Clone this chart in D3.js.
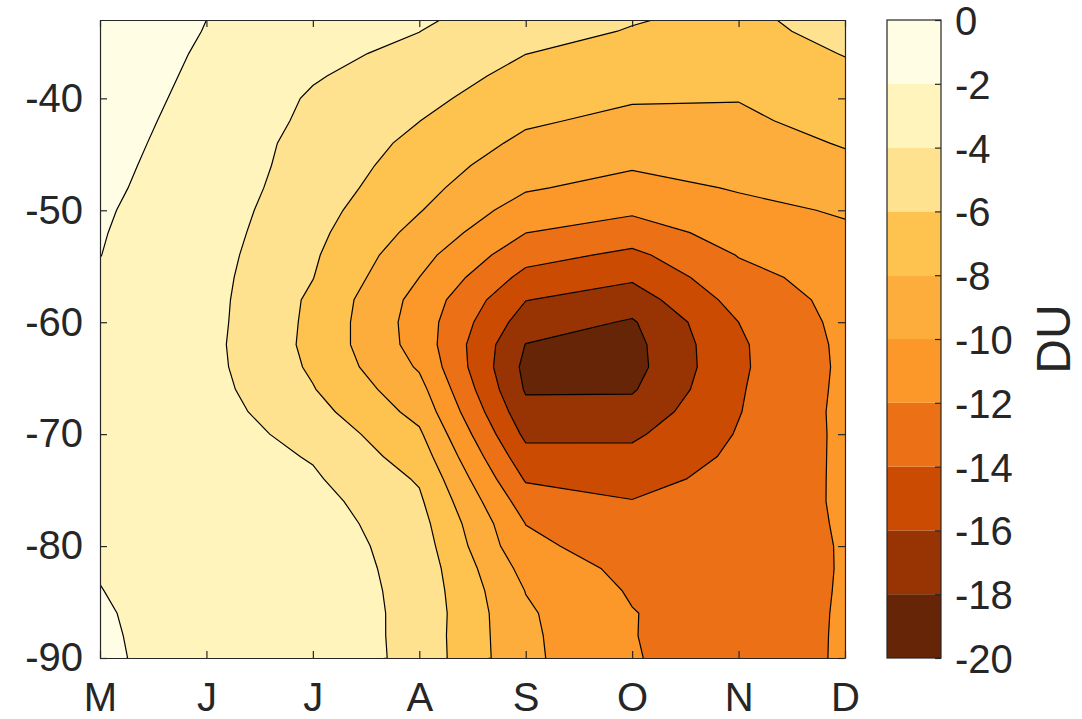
<!DOCTYPE html>
<html>
<head>
<meta charset="utf-8">
<script src="https://cdn.jsdelivr.net/npm/d3@7"></script>
<style>
body { margin: 0; background: #fff; }
text { font-family: "Liberation Sans", Arial, sans-serif; }
</style>
</head>
<body>
<script>
//month columns (x) and latitude rows (y), south to north
var months = ["M", "J", "J", "A", "S", "O", "N", "D"];
var lats = [-90, -88, -86, -84, -82, -80, -78, -76, -74, -72, -70, -68, -66, -64, -62,
            -60, -58, -56, -54, -52, -50, -48, -46, -44, -42, -40, -38, -36, -34, -32];

//ozone change (DU) for each month, one value per latitude row above
var duMay = [-1.86, -1.88, -1.91, -1.98, -2.05, -2.1, -2.15, -2.22, -2.3, -2.35, -2.45, -2.5, -2.55, -2.55, -2.5,
             -2.4, -2.3, -2.15, -1.98, -1.91, -1.82, -1.66, -1.51, -1.36, -1.24, -1.12, -1.03, -1.0, -0.98, -0.95];
var duJun = [-2.4, -2.43, -2.47, -2.5, -2.52, -2.56, -2.62, -2.7, -2.8, -2.9, -3.12, -3.16, -3.29, -3.4, -3.43,
             -3.36, -3.32, -3.31, -3.21, -3.09, -2.98, -2.95, -2.9, -2.8, -2.65, -2.5, -2.35, -2.2, -2.05, -1.95];
var duJul = [-2.31, -2.35, -2.55, -2.63, -2.78, -2.83, -3.0, -3.3, -3.75, -4.15, -4.6, -5.31, -5.9, -6.28, -6.48,
             -6.42, -6.33, -5.96, -5.75, -5.5, -5.25, -4.9, -4.7, -4.6, -4.37, -4.2, -3.85, -3.6, -3.3, -2.9];
var duAug = [-4.73, -4.76, -4.67, -4.72, -4.79, -5.0, -5.3, -5.7, -6.2, -6.95, -7.7, -8.6, -9.35, -10.22, -10.78,
             -10.89, -10.65, -10.0, -9.35, -8.59, -7.9, -7.42, -6.94, -6.46, -5.98, -5.47, -4.98, -4.38, -3.98, -3.4];
var duSep = [-9.57, -9.62, -9.74, -10.05, -10.67, -11.55, -12.03, -13.0, -14.2, -15.31, -16.45, -17.4, -18.2, -18.51, -18.05,
             -16.97, -15.95, -14.6, -13.25, -11.98, -10.88, -9.8, -9.13, -8.4, -7.74, -7.16, -6.58, -5.98, -5.5, -5.0];
var duOct = [-11.86, -11.93, -11.92, -12.2, -12.55, -12.95, -13.6, -13.94, -14.68, -15.48, -16.33, -17.26, -18.2, -18.68, -18.6,
             -18.2, -17.0, -15.71, -14.45, -12.93, -11.7, -10.7, -9.8, -9.13, -8.47, -7.83, -7.26, -6.69, -6.08, -5.75];
var duNov = [-13.2, -13.2, -13.2, -13.1, -13.05, -13.0, -13.05, -13.15, -13.35, -13.63, -13.87, -14.08, -14.18, -14.3, -14.27,
             -14.0, -13.3, -12.6, -11.92, -11.22, -10.54, -9.85, -9.4, -8.9, -8.35, -7.93, -7.4, -6.9, -6.4, -6.2];
var duDec = [-11.77, -11.78, -11.8, -11.85, -11.88, -11.88, -11.82, -11.75, -11.71, -11.66, -11.62, -11.55, -11.6, -11.64, -11.59,
             -11.47, -11.4, -11.2, -10.8, -10.3, -9.8, -9.13, -8.47, -7.85, -7.3, -6.88, -6.39, -5.93, -5.6, -5.3];

//contour levels and the fill of each band, lowest band first
var levels = [-20, -18, -16, -14, -12, -10, -8, -6, -4, -2, 0];
var bandColors = ["#662506", "#983404", "#cb4b02", "#eb7016", "#fb9829", "#fdad3b",
                  "#fec34f", "#fee290", "#fff5bc", "#fffde3"];
var latTicks = [-90, -80, -70, -60, -50, -40];

var width = 1082,
    height = 719;
var plot = {left: 100, right: 845, top: 20, bottom: 658};
var cbar = {left: 887, right: 941};
var ink = "#262626";

var svg = d3.select("body")
    .append("svg")
    .attr("width", width)
    .attr("height", height);

var x = d3.scaleLinear()
    .domain([0, months.length - 1])
    .range([plot.left, plot.right]);

var y = d3.scaleLinear()
    .domain([-90, -33])
    .range([plot.bottom, plot.top]);

//build the row-major grid (rows = latitudes, columns = months)
var columns = [duMay, duJun, duJul, duAug, duSep, duOct, duNov, duDec];
var grid = [];
lats.forEach(function(lat, j){
    columns.forEach(function(col){ grid.push(col[j]); });
});

var bands = d3.contours()
    .size([months.length, lats.length])
    .thresholds(levels.slice(0, -1))(grid);

//d3.contours puts samples at cell centres, so shift by half a cell
var latStep = lats[1] - lats[0];
var gridToPx = d3.geoTransform({
    point: function(gx, gy){
        this.stream.point(x(gx - 0.5), y(lats[0] + (gy - 0.5) * latStep));
    }
});
var path = d3.geoPath(gridToPx);

svg.append("clipPath")
    .attr("id", "plotClip")
    .append("rect")
    .attr("x", plot.left)
    .attr("y", plot.top)
    .attr("width", plot.right - plot.left)
    .attr("height", plot.bottom - plot.top);

var field = svg.append("g").attr("clip-path", "url(#plotClip)");

field.selectAll(".band")
    .data(bands)
    .enter()
    .append("path")
    .attr("class", "band")
    .attr("d", path)
    .attr("fill", function(d, i){ return bandColors[i]; });

field.selectAll(".isoline")
    .data(bands.slice(1))
    .enter()
    .append("path")
    .attr("class", "isoline")
    .attr("d", path)
    .attr("fill", "none")
    .attr("stroke", "#000")
    .attr("stroke-width", 1.2);

//axes with inward ticks on all four sides
function styleAxis(g){
    g.selectAll(".domain").attr("stroke", ink).attr("stroke-width", 1.2);
    g.selectAll(".tick line").attr("stroke", ink).attr("stroke-width", 1.2);
    g.selectAll(".tick text").attr("fill", ink);
    g.attr("font-size", 40).attr("font-family", null);
}

svg.append("g")
    .attr("transform", "translate(0," + plot.bottom + ")")
    .call(d3.axisBottom(x)
        .tickValues(d3.range(months.length))
        .tickFormat(function(i){ return months[i]; })
        .tickSizeInner(-7).tickSizeOuter(0).tickPadding(25))
    .call(styleAxis);

svg.append("g")
    .attr("transform", "translate(0," + plot.top + ")")
    .call(d3.axisTop(x)
        .tickValues(d3.range(months.length))
        .tickFormat("")
        .tickSizeInner(-7).tickSizeOuter(0))
    .call(styleAxis);

svg.append("g")
    .attr("transform", "translate(" + plot.left + ",0)")
    .call(d3.axisLeft(y)
        .tickValues(latTicks)
        .tickFormat(function(d){ return String(d); })
        .tickSizeInner(-7).tickSizeOuter(0).tickPadding(17))
    .call(styleAxis);

svg.append("g")
    .attr("transform", "translate(" + plot.right + ",0)")
    .call(d3.axisRight(y)
        .tickValues(latTicks)
        .tickFormat("")
        .tickSizeInner(-7).tickSizeOuter(0))
    .call(styleAxis);

//colorbar
var c = d3.scaleLinear()
    .domain([levels[0], levels[levels.length - 1]])
    .range([plot.bottom, plot.top]);

svg.selectAll(".cbBand")
    .data(d3.pairs(levels))
    .enter()
    .append("rect")
    .attr("class", "cbBand")
    .attr("x", cbar.left)
    .attr("width", cbar.right - cbar.left)
    .attr("y", function(d){ return c(d[1]); })
    .attr("height", function(d){ return c(d[0]) - c(d[1]); })
    .attr("fill", function(d, i){ return bandColors[i]; });

svg.append("rect")
    .attr("x", cbar.left)
    .attr("y", plot.top)
    .attr("width", cbar.right - cbar.left)
    .attr("height", plot.bottom - plot.top)
    .attr("fill", "none")
    .attr("stroke", ink)
    .attr("stroke-width", 1.2);

svg.append("g")
    .attr("transform", "translate(" + cbar.right + ",0)")
    .call(d3.axisRight(c)
        .tickValues(levels)
        .tickFormat(function(d){ return String(d); })
        .tickSizeInner(-6).tickSizeOuter(0).tickPadding(14))
    .call(styleAxis)
    .call(function(g){
        g.select(".domain").remove();
        g.selectAll(".tick text").attr("dy", "0.36em");
    });

svg.append("text")
    .attr("transform", "translate(1070,339) rotate(-90)")
    .attr("text-anchor", "middle")
    .attr("font-size", 48)
    .attr("fill", ink)
    .text("DU");
</script>
</body>
</html>
